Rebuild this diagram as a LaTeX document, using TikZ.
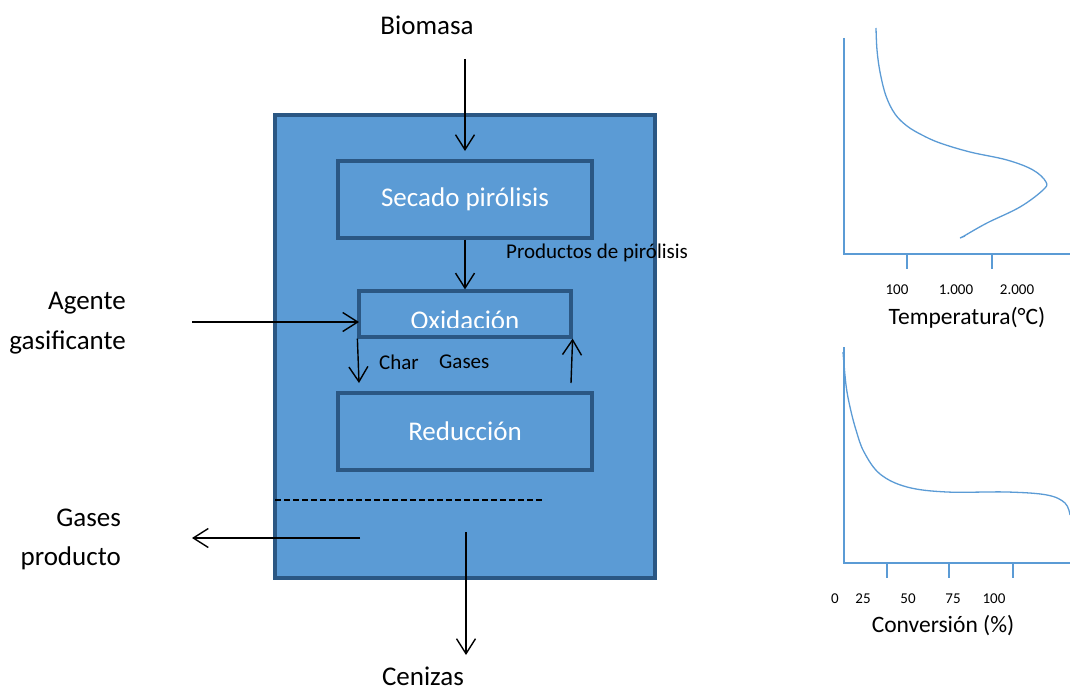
\documentclass[tikz,border=0pt]{standalone}
\usepackage{fontspec}
\setmainfont{Carlito}
\usetikzlibrary{arrows.meta}
\definecolor{fillblue}{HTML}{5B9BD5}
\definecolor{edgeblue}{HTML}{2B5783}
\begin{document}
\begin{tikzpicture}[x=1pt,y=-1pt,
  reactor/.style={draw=edgeblue, line width=3.2pt, fill=fillblue, inner sep=0pt},
  stage/.style={draw=edgeblue, line width=3.2pt, fill=fillblue, text=white, font=\fontsize{27}{32}\selectfont, inner sep=0pt},
  flow/.style={-{Straight Barb[length=15pt,width=19pt]}, line width=1.4pt, draw=black},
  lbl/.style={font=\fontsize{27}{32}\selectfont, inner sep=0pt},
  smalllbl/.style={font=\fontsize{21}{25}\selectfont, inner sep=0pt},
  ticklbl/.style={font=\fontsize{15}{18}\selectfont, inner sep=0pt},
  axtitle/.style={font=\fontsize{23.5}{28}\selectfont, inner sep=0pt},
  axisline/.style={draw=fillblue, line width=1.5pt},
  curveline/.style={draw=fillblue, line width=1.3pt},
  dashline/.style={draw=black, line width=2pt, dash pattern=on 6pt off 3pt}]
\useasboundingbox (0,0) rectangle (1070,693);

% reactor and stages
\node[reactor, minimum width=380pt, minimum height=463pt] (reactor) at (465,346.5) {};
\node[stage, minimum width=254pt, minimum height=77pt] (secado) at (465,199.5) {Secado pirólisis};
\node[stage, minimum width=212pt, minimum height=46pt] (oxid) at (465,314) {};
\begin{scope}
  \clip (359,291) rectangle (571,327);
  \node[text=white, font=\fontsize{27}{32}\selectfont, inner sep=0pt, anchor=base] (oxidtext) at (465,329) {Oxidación};
\end{scope}
\node[stage, minimum width=254pt, minimum height=77pt] (reduc) at (465,431.5) {Reducción};

% dashed separator
\coordinate (dashL) at (275,500);
\coordinate (dashR) at (542,500);
\draw[dashline] (dashL) -- (dashR);

% flows
\coordinate (bioTop) at (465,59);
\coordinate (bioTip) at (465,151);
\draw[flow] (bioTop) -- (bioTip);
\draw[flow] (secado.south) -- (oxid.north);
\coordinate (agIn) at (192,322);
\coordinate (agTip) at (359,322);
\draw[flow] (agIn) -- (agTip);
\coordinate (charTip) at (359,383);
\draw[flow] (oxid.south west) -- (charTip);
\coordinate (gasBase) at (571,383);
\draw[flow] (gasBase) -- (oxid.south east);
\coordinate (gpIn) at (360,538);
\coordinate (gpTip) at (192,538);
\draw[flow] (gpIn) -- (gpTip);
\coordinate (cenIn) at (466,532);
\coordinate (cenTip) at (466,655);
\draw[flow] (cenIn) -- (cenTip);

% labels
\node[lbl] (biomasa) at (427,25) {Biomasa};
\node[lbl, anchor=east] (agente) at (126,303) {Agente};
\node[lbl, anchor=east] (gasif) at (126,342) {gasificante};
\node[lbl, anchor=east] (gases) at (121,518) {Gases};
\node[lbl, anchor=east] (producto) at (121,558) {producto};
\node[lbl] (cenizas) at (423,676) {Cenizas};
\node[smalllbl, anchor=west] (prod) at (506,253) {Productos de pirólisis};
\node[smalllbl, anchor=west] (char) at (379,362) {Char};
\node[smalllbl, anchor=west] (gaseslbl) at (439,362) {Gases};

% graph 1: temperature
\coordinate (gAtop) at (844,38);
\coordinate (gAo) at (844,254);
\coordinate (gAend) at (1070,254);
\draw[axisline] (gAtop) -- (gAo) -- (gAend);
\draw[axisline] (907,254) -- (907,269);
\draw[axisline] (992,254) -- (992,269);
\draw[curveline] plot[smooth, tension=0.6] coordinates {(876,28) (877,50) (880,72) (886,96) (895,114) (907,126) (922,135) (940,143) (970,152) (1007,160) (1033,170) (1046,182) (1043,190) (1020,207) (987,223) (964,236) (960,238) (965,236)};
\node[ticklbl] (tA1) at (897,290) {100};
\node[ticklbl] (tA2) at (956,290) {1.000};
\node[ticklbl] (tA3) at (1017,290) {2.000};
\node[axtitle] (tempt) at (967,318) {Temperatura(°C)};

% graph 2: conversion
\coordinate (gBtop) at (844,347);
\coordinate (gBo) at (844,563);
\coordinate (gBend) at (1070,563);
\draw[axisline] (gBtop) -- (gBo) -- (gBend);
\draw[axisline] (887,563) -- (887,578);
\draw[axisline] (949,563) -- (949,578);
\draw[axisline] (1013,563) -- (1013,578);
\draw[curveline] plot[smooth, tension=0.6] coordinates {(843,352) (846,385) (850,407) (856,430) (864,452) (880,474) (907,487) (947,492) (1007,492) (1047,495) (1065,503) (1070,515)};
\node[ticklbl] (tB0) at (835,599) {0};
\node[ticklbl] (tB1) at (863,599) {25};
\node[ticklbl] (tB2) at (908,599) {50};
\node[ticklbl] (tB3) at (953,599) {75};
\node[ticklbl] (tB4) at (994,599) {100};
\node[axtitle] (convt) at (943,626) {Conversión (\%)};
\end{tikzpicture}
\end{document}
